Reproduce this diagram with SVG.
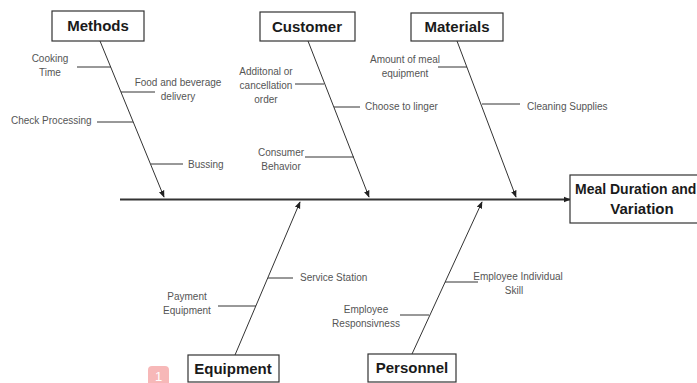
<svg xmlns="http://www.w3.org/2000/svg" width="697" height="383" viewBox="0 0 697 383">
<style>
.box{fill:#fff;stroke:#333;stroke-width:1.2}
.cat{font-family:"Liberation Sans",Arial,sans-serif;font-weight:bold;font-size:15px;fill:#1a1a1a;text-anchor:middle}
.lbl{font-family:"Liberation Sans",Arial,sans-serif;font-size:10px;fill:#555}
.bone{stroke:#333;stroke-width:1;fill:none}
.spine{stroke:#333;stroke-width:2;fill:none}
</style>
<defs>
<marker id="ah" viewBox="0 0 10 10" refX="9" refY="5" markerWidth="7" markerHeight="7" orient="auto" markerUnits="userSpaceOnUse">
<path d="M0,1 L10,5 L0,9 Z" fill="#222"/>
</marker>
</defs>
<rect width="697" height="383" fill="#fff"/>
<g id="connectors">
<line class="spine" x1="120" y1="199.5" x2="570" y2="199.5" marker-end="url(#ah)"/>
<line class="bone" x1="100" y1="41" x2="164" y2="197" marker-end="url(#ah)"/>
<line class="bone" x1="308" y1="41" x2="369" y2="197" marker-end="url(#ah)"/>
<line class="bone" x1="457" y1="41" x2="516" y2="197" marker-end="url(#ah)"/>
<line class="bone" x1="235" y1="355" x2="300" y2="202" marker-end="url(#ah)"/>
<line class="bone" x1="412" y1="354" x2="482" y2="202" marker-end="url(#ah)"/>
<line class="bone" x1="77" y1="67" x2="111" y2="67"/>
<line class="bone" x1="121" y1="92" x2="155" y2="92"/>
<line class="bone" x1="97" y1="122" x2="133" y2="122"/>
<line class="bone" x1="151" y1="164" x2="183" y2="164"/>
<line class="bone" x1="295" y1="84" x2="324" y2="84"/>
<line class="bone" x1="334" y1="107" x2="360" y2="107"/>
<line class="bone" x1="305" y1="157" x2="354" y2="157"/>
<line class="bone" x1="438" y1="67" x2="467" y2="67"/>
<line class="bone" x1="482" y1="104" x2="520" y2="104"/>
<line class="bone" x1="268" y1="278" x2="293" y2="278"/>
<line class="bone" x1="218" y1="306" x2="256" y2="306"/>
<line class="bone" x1="445" y1="282" x2="478" y2="282"/>
<line class="bone" x1="400" y1="315" x2="429" y2="315"/>
</g>
<g id="effect">
<rect class="box" x="570" y="175" width="144" height="48"/>
<text class="cat" x="575" y="194" font-size="14" text-anchor="start" style="font-size:14px;text-anchor:start">Meal Duration and</text>
<text class="cat" x="642" y="214">Variation</text>
</g>
<g id="methods">
<rect class="box" x="52" y="11" width="92" height="30"/>
<text class="cat" x="98" y="31">Methods</text>
<text class="lbl" x="50" y="62" text-anchor="middle">Cooking</text>
<text class="lbl" x="50" y="76" text-anchor="middle">Time</text>
<text class="lbl" x="178" y="86" text-anchor="middle">Food and beverage</text>
<text class="lbl" x="178" y="100" text-anchor="middle">delivery</text>
<text class="lbl" x="11" y="124">Check Processing</text>
<text class="lbl" x="188" y="168">Bussing</text>
</g>
<g id="customer">
<rect class="box" x="260" y="12" width="95" height="29"/>
<text class="cat" x="307" y="32">Customer</text>
<text class="lbl" x="266" y="75" text-anchor="middle">Additonal or</text>
<text class="lbl" x="266" y="89" text-anchor="middle">cancellation</text>
<text class="lbl" x="266" y="103" text-anchor="middle">order</text>
<text class="lbl" x="365" y="110">Choose to linger</text>
<text class="lbl" x="281" y="156" text-anchor="middle">Consumer</text>
<text class="lbl" x="281" y="170" text-anchor="middle">Behavior</text>
</g>
<g id="materials">
<rect class="box" x="411" y="13" width="92" height="28"/>
<text class="cat" x="457" y="32">Materials</text>
<text class="lbl" x="405" y="63" text-anchor="middle">Amount of meal</text>
<text class="lbl" x="405" y="77" text-anchor="middle">equipment</text>
<text class="lbl" x="527" y="110">Cleaning Supplies</text>
</g>
<g id="equipment">
<rect class="box" x="188" y="355" width="91" height="27"/>
<text class="cat" x="233" y="374">Equipment</text>
<text class="lbl" x="300" y="281">Service Station</text>
<text class="lbl" x="187" y="300" text-anchor="middle">Payment</text>
<text class="lbl" x="187" y="314" text-anchor="middle">Equipment</text>
</g>
<g id="personnel">
<rect class="box" x="368" y="354" width="88" height="28"/>
<text class="cat" x="412" y="373">Personnel</text>
<text class="lbl" x="518" y="280" text-anchor="middle">Employee Individual</text>
<text class="lbl" x="514" y="294" text-anchor="middle">Skill</text>
<text class="lbl" x="366" y="313" text-anchor="middle">Employee</text>
<text class="lbl" x="366" y="327" text-anchor="middle">Responsivness</text>
</g>
<g id="badge">
<rect x="148" y="366" width="21" height="20" rx="4" fill="#f7b8b8"/>
<text x="158.5" y="381" font-family="Liberation Sans,Arial,sans-serif" font-size="13" fill="#fff" text-anchor="middle">1</text>
</g>
</svg>
